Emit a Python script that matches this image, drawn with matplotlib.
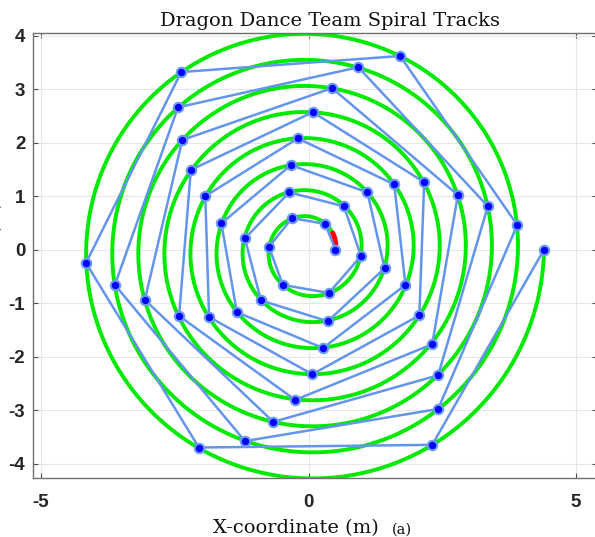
import numpy as np
import matplotlib
matplotlib.use("Agg")
import matplotlib.pyplot as plt

plt.rcParams["axes.unicode_minus"] = False

# Dragon body hole positions (m), head last
x_pts = [4.40, 2.31, -2.05, -4.16, -2.38, 1.71, 3.90, 2.42, -1.19, -3.62,
         -2.44, 0.93, 3.35, 2.42, -0.66, -3.06, -2.36, 0.44, 2.79, 2.31,
         -0.25, -2.42, -2.20, 0.08, 2.16, 2.07, 0.07, -1.86, -1.93, -0.20,
         1.60, 1.81, 0.27, -1.34, -1.63, -0.33, 1.10, 1.42, 0.36, -0.89,
         -1.19, -0.36, 0.66, 0.98, 0.38, -0.48, -0.74, -0.31, 0.31, 0.50]
y_pts = [0.00, -3.65, -3.70, -0.25, 3.32, 3.62, 0.46, -2.98, -3.58, -0.66,
         2.66, 3.41, 0.81, -2.35, -3.22, -0.94, 2.05, 3.02, 1.02, -1.77,
         -2.81, -1.24, 1.49, 2.57, 1.26, -1.23, -2.33, -1.26, 1.00, 2.08,
         1.22, -0.66, -1.84, -1.17, 0.49, 1.58, 1.07, -0.35, -1.34, -0.95,
         0.21, 1.07, 0.81, -0.12, -0.81, -0.66, 0.05, 0.59, 0.48, 0.00]

# Archimedean spiral track
r_inner = 0.50      # radius at the inner end (m)
r_outer = 4.40      # radius at the outer end (m)
n_turns = 8
pitch = (r_outer - r_inner) / n_turns
head_arc = 0.60     # angular extent of the head trace (rad)

theta = np.linspace(0, 2 * np.pi * n_turns, 4000)
r = r_inner + pitch * theta / (2 * np.pi)
sx, sy = r * np.cos(theta), r * np.sin(theta)

th_h = np.linspace(0, head_arc, 50)
r_h = r_inner + pitch * th_h / (2 * np.pi)

fig = plt.figure(figsize=(5.95, 5.37), dpi=100)
ax = fig.add_axes([33 / 595, 59 / 537, 564 / 595, 445 / 537])

ax.plot(sx, sy, color="#00ea00", lw=2.8, zorder=2)
ax.plot(r_h * np.cos(th_h), r_h * np.sin(th_h), color="#ff0000", lw=3.6,
        solid_capstyle="round", zorder=3)
ax.plot(x_pts, y_pts, color="#6495ED", lw=1.8, marker="o", ms=6.8,
        mfc="#0000ff", mec="#6d9bf0", mew=1.5, zorder=4)

ax.set_xlim(-5.15, 5.39)
ax.set_ylim(-4.27, 4.05)
ax.set_xticks([-5, 0, 5])
ax.set_yticks([-4, -3, -2, -1, 0, 1, 2, 3, 4])
ax.grid(True, color="#e6e6e6", lw=0.8, zorder=0)
ax.set_axisbelow(True)

for side in ax.spines.values():
    side.set_color("#707070")
    side.set_linewidth(1.0)

ax.tick_params(axis="both", direction="in", length=3.6, width=0.8,
               color="#505050", top=True, right=True)
ax.tick_params(axis="x", pad=11.5)
ax.tick_params(axis="y", pad=5.5)
for lab in ax.get_xticklabels() + ax.get_yticklabels():
    lab.set_fontfamily("Liberation Sans")
    lab.set_fontweight("bold")
    lab.set_fontsize(13.5)
    lab.set_color("#262626")

serif = "DejaVu Serif"
fig.text(329.5 / 595, (537 - 26) / 537, "Dragon Dance Team Spiral Tracks",
         family=serif, fontsize=14, ha="center", va="baseline", color="#111111")
fig.text(213 / 595, 3.5 / 537, "X-coordinate (m)", family=serif, fontsize=14,
         ha="left", va="baseline", color="#111111")
fig.text(392 / 595, 3.5 / 537, "(a)", family=serif, fontsize=10.5,
         ha="left", va="baseline", color="#111111")
fig.text(3 / 595, 255 / 537, "Y-coordinate (m)", family=serif, fontsize=14,
         ha="right", va="center", rotation=90, color="#111111")

fig.savefig("out.png", dpi=100)
